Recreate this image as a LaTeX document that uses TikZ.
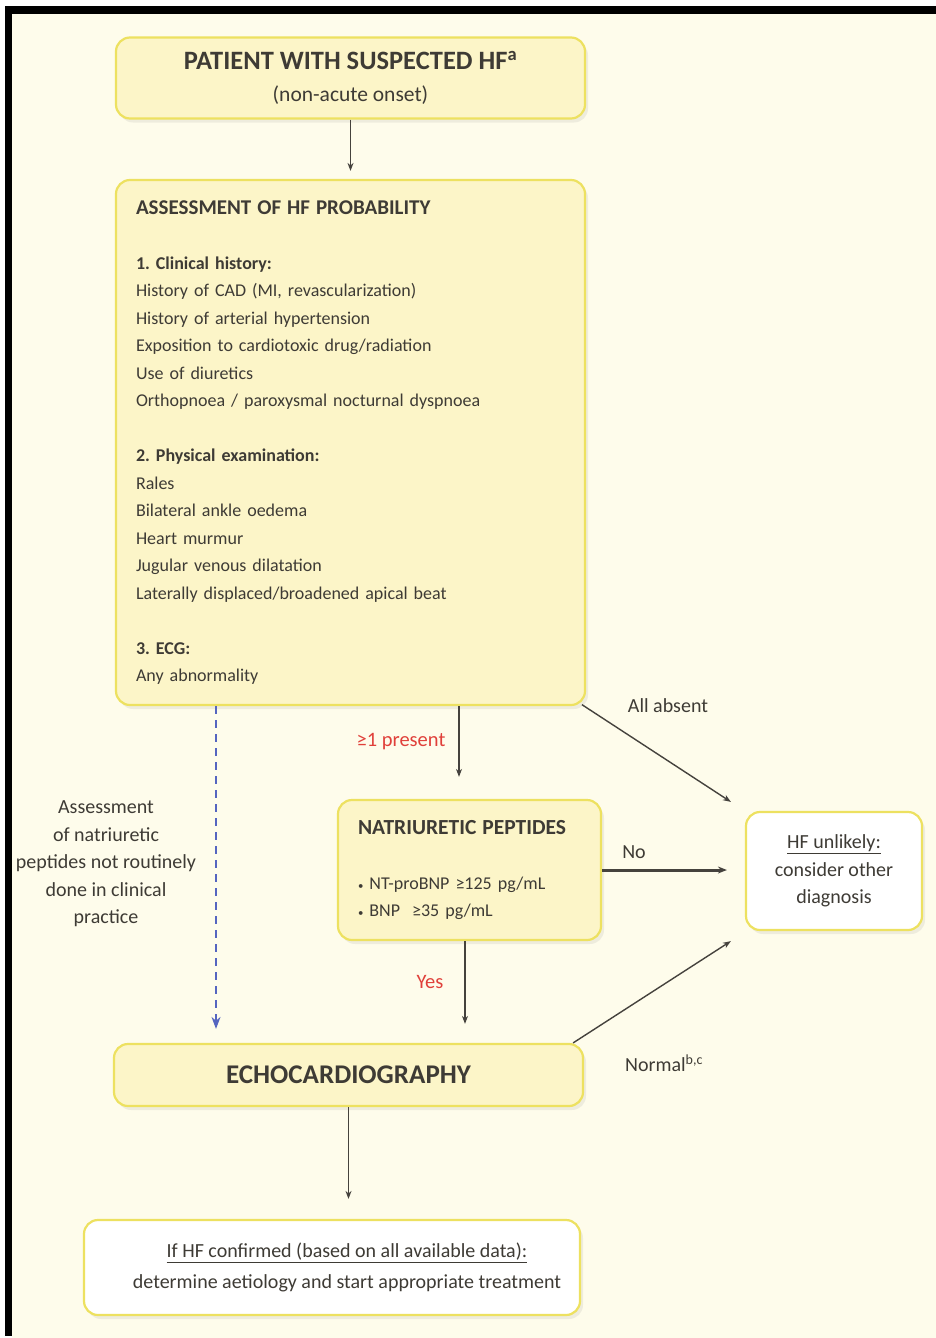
\documentclass[tikz,border=0pt]{standalone}
\usepackage{fontspec}
\setmainfont{Carlito}
\frenchspacing
\usetikzlibrary{arrows.meta,shadows}
\definecolor{bg}{HTML}{FEFCEB}
\definecolor{boxfill}{HTML}{FCF5C8}
\definecolor{boxline}{HTML}{EDE160}
\definecolor{txt}{HTML}{3E3B35}
\definecolor{redtxt}{HTML}{E0403A}
\definecolor{dashblue}{HTML}{5565C0}
\definecolor{arrowc}{HTML}{45423D}
\newcommand{\smallbul}{{\scalebox{0.6}{•}}}
\begin{document}
\begin{tikzpicture}[x=1pt,y=-1pt,
  every node/.style={text=txt, font=\fontsize{18}{27.5}\selectfont},
  box/.style={draw=boxline, line width=2.2pt, fill=boxfill, rounded corners=14pt,
    drop shadow={opacity=0.12, shadow xshift=3pt, shadow yshift=-4pt}, inner sep=0pt},
  wbox/.style={box, fill=white},
  arr/.style={draw=arrowc, line width=1.4pt, -{Stealth[length=8pt,width=6pt]}},
  redlbl/.style={text=redtxt, font=\fontsize{20.5}{24}\selectfont},
  plainlbl/.style={text=txt, align=center, font=\fontsize{20}{27.5}\selectfont}]
\useasboundingbox (0,0) rectangle (936,1338);
\fill[white] (0,0) rectangle (936,1338);
\fill[bg] (12,14) rectangle (936,1338);
\fill[black] (5,6) rectangle (12,1336);
\fill[black] (5,6) rectangle (936,14);

% boxes
\node[box, minimum width=469pt, minimum height=81pt, align=center,
  font=\fontsize{21.5}{32}\selectfont] (top) at (350.5,78)
  {{\bfseries\fontsize{26.5}{32}\selectfont PATIENT WITH SUSPECTED HF\textsuperscript{a}}\\(non-acute onset)};

\node[box, minimum width=469pt, minimum height=525pt, text width=429pt, align=left] (assess) at (350.5,442.5)
  {{\bfseries\fontsize{21}{27.5}\selectfont ASSESSMENT OF HF PROBABILITY}\\[27.5pt]
   \textbf{1. Clinical history:}\\
   History of CAD (MI, revascularization)\\
   History of arterial hypertension\\
   Exposition to cardiotoxic drug/radiation\\
   Use of diuretics\\
   Orthopnoea / paroxysmal nocturnal dyspnoea\\[27.5pt]
   \textbf{2. Physical examination:}\\
   Rales\\
   Bilateral ankle oedema\\
   Heart murmur\\
   Jugular venous dilatation\\
   Laterally displaced/broadened apical beat\\[27.5pt]
   \textbf{3. ECG:}\\
   Any abnormality};

\node[box, minimum width=263pt, minimum height=140pt, text width=223pt, align=left] (np) at (469.5,870)
  {{\bfseries\fontsize{21.5}{27.5}\selectfont NATRIURETIC PEPTIDES}\\[27.5pt]
   \smallbul\ NT-proBNP ≥125 pg/mL\\
   \smallbul\ BNP\ \ ≥35 pg/mL};

\node[wbox, minimum width=176pt, minimum height=118pt, align=center,
  font=\fontsize{20}{27.5}\selectfont] (unlikely) at (834,871)
  {\underline{HF unlikely:}\\consider other\\diagnosis};

\node[box, minimum width=469pt, minimum height=62pt, align=center,
  font=\bfseries\fontsize{27}{30}\selectfont] (echo) at (348.5,1075)
  {ECHOCARDIOGRAPHY};

\node[wbox, minimum width=496pt, minimum height=95pt, align=center,
  font=\fontsize{20}{31}\selectfont] (final) at (332,1267.5)
  {\hspace*{30pt}\underline{If HF confirmed (based on all available data):}\\
   \hspace*{30pt}determine aetiology and start appropriate treatment};

% connectors
\draw[arr, shorten >=8pt] (top.south) -- (assess.north);
\draw[arr, shorten >=22pt] ([xshift=-10.5pt]np.north |- assess.south) -- ([xshift=-10.5pt]np.north);
\draw[arr, shorten <=1pt] ([xshift=-5pt,yshift=2pt]assess.south east) -- ([xshift=-14pt,yshift=9pt]unlikely.north west);
\draw[arr, line width=3pt, -{Stealth[length=9pt,width=7pt]}, shorten >=18pt] (np.east) -- (np.east -| unlikely.west);
\draw[arr, shorten >=19pt] ([xshift=-4.5pt]np.south) -- ([xshift=-4.5pt]np.south |- echo.north);
\draw[arr] ([xshift=-11pt]echo.north east) -- ([xshift=-14pt,yshift=-10pt]unlikely.south west);
\draw[arr, shorten >=20pt] (echo.south) -- (echo.south |- final.north);
\draw[draw=dashblue, line width=1.4pt, dash pattern=on 8pt off 6pt, -{Stealth[length=12pt,width=9pt]}, shorten >=14pt]
  ([xshift=-134.5pt]assess.south) -- ([xshift=-132.5pt]echo.north);

% labels
\node[redlbl] (present) at (401,742) {≥1 present};
\node[redlbl] (yes) at (430,982) {Yes};
\node[plainlbl] (allabsent) at (668,706) {All absent};
\node[plainlbl] (no) at (634,852) {No};
\node[plainlbl] (normal) at (664,1063) {Normal\textsuperscript{b,c}};
\node[plainlbl] (leftnote) at (106,864)
  {Assessment\\of natriuretic\\peptides not routinely\\done in clinical\\practice};
\end{tikzpicture}
\end{document}
